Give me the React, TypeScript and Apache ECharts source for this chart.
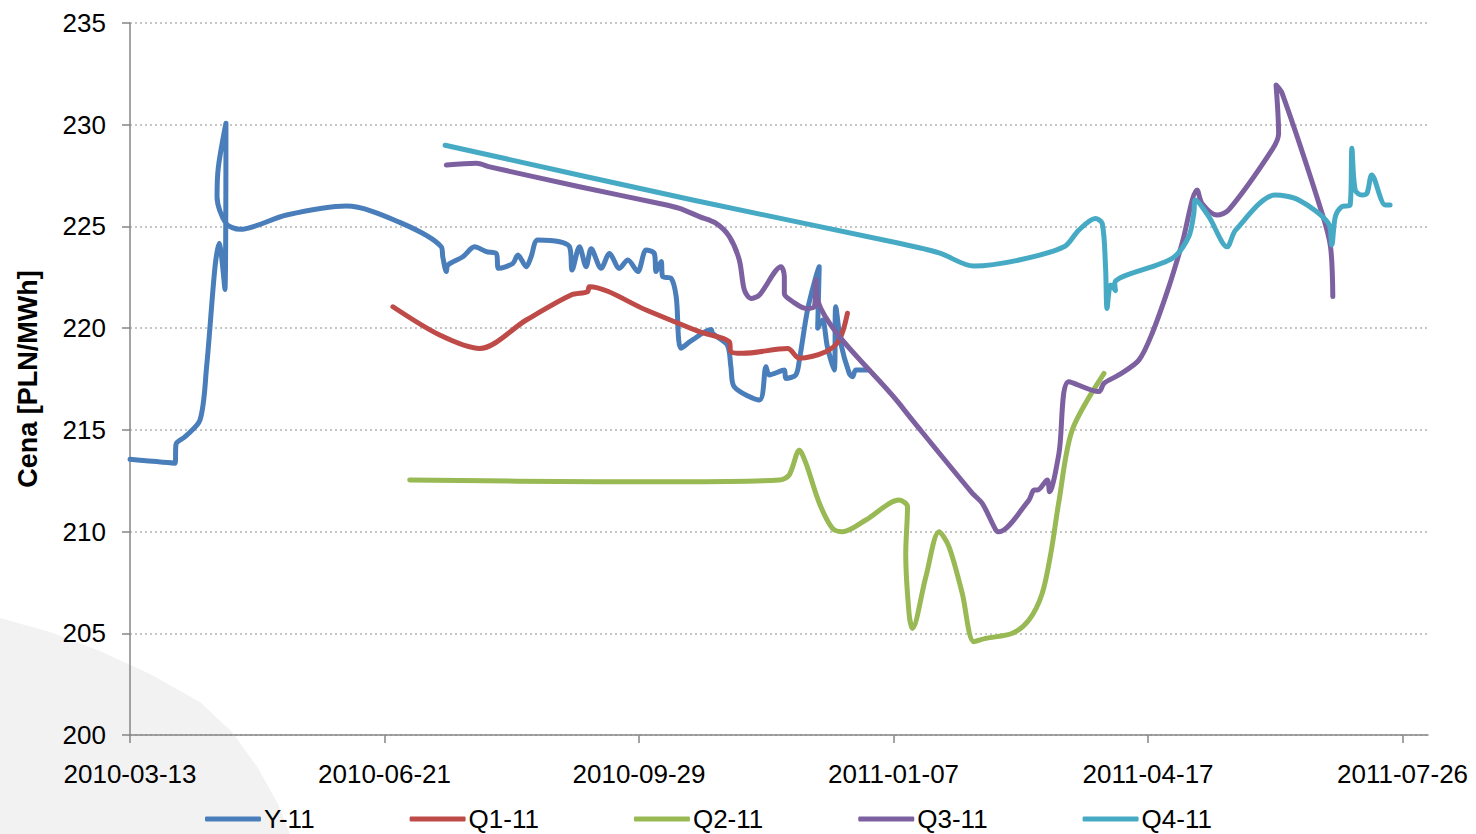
import React, { useEffect, useRef } from "react";
import * as echarts from "echarts";

// x values: days elapsed since START_DATE (2010-03-13)
const START_DATE = "2010-03-13";
const xTickLabels = ["2010-03-13", "2010-06-21", "2010-09-29", "2011-01-07", "2011-04-17", "2011-07-26"];
const yTickValues = [200, 205, 210, 215, 220, 225, 230, 235];
const seriesNames = ["Y-11", "Q1-11", "Q2-11", "Q3-11", "Q4-11"];
const seriesColors = ["#4a7ebb", "#be4b48", "#98b954", "#7d60a0", "#46aac5"];

const y11Days = [0, 17.7, 18.1, 21.6, 27.5, 30.1, 33.4, 35.0, 37.3, 37.7, 34.7, 34.2, 37.7, 43.2, 61.5, 85.0, 106.0, 122.3, 122.9, 124.3, 124.9, 130.8, 135.4, 140.0, 143.9, 144.9, 150.4, 152.4, 155.7, 157.6, 160.2, 168.8, 172.7, 173.7, 176.6, 179.2, 181.2, 185.1, 188.4, 192.3, 195.6, 199.5, 202.8, 206.0, 206.7, 208.7, 209.3, 212.6, 214.6, 216.5, 221.0, 228.3, 228.9, 234.7, 236.1, 237.4, 247.3, 249.9, 251.2, 257.1, 257.7, 261.6, 263.0, 266.2, 269.5, 270.8, 270.2, 272.1, 274.0, 276.7, 277.3, 279.3, 282.6, 283.9, 285.2, 290.4];
const y11Vals = [213.55, 213.36, 214.3, 214.66, 215.48, 218.1, 223.0, 224.17, 221.9, 230.07, 227.9, 226.46, 225.15, 224.86, 225.56, 226.0, 225.2, 224.0, 223.5, 222.78, 223.1, 223.51, 224.0, 223.76, 223.67, 222.94, 223.18, 223.6, 223.02, 223.51, 224.33, 224.25, 224.0, 222.86, 224.0, 223.02, 223.9, 222.94, 223.67, 222.94, 223.35, 222.78, 223.84, 223.67, 222.78, 223.27, 222.53, 222.45, 221.55, 219.01, 219.42, 219.93, 219.74, 219.17, 218.1, 217.12, 216.47, 218.1, 217.7, 217.94, 217.53, 217.7, 218.43, 220.89, 222.53, 223.02, 220.0, 220.4, 219.09, 217.94, 221.05, 219.25, 217.78, 217.61, 217.94, 217.94];

const q111Days = [103.3, 121.7, 137.4, 155.7, 173.3, 179.8, 180.5, 202.8, 223.7, 235.5, 236.1, 240.7, 258.4, 263.0, 273.4, 278.7, 281.9];
const q111Vals = [221.05, 219.66, 219.0, 220.4, 221.63, 221.79, 222.04, 220.89, 219.83, 219.33, 218.84, 218.76, 219.0, 218.52, 218.84, 219.42, 220.73];

const q211Days = [109.9, 184.5, 215.9, 255.1, 259.0, 263.0, 265.6, 270.9, 276.0, 279.9, 289.1, 302.2, 305.5, 304.8, 306.1, 307.4, 312.7, 317.9, 321.8, 327.0, 331.6, 336.2, 346.7, 353.2, 358.4, 361.9, 365.0, 370.2, 382.7];
const q211Vals = [212.54, 212.45, 212.45, 212.53, 212.78, 214.0, 213.35, 211.38, 210.16, 209.99, 210.57, 211.55, 211.22, 208.93, 205.98, 205.24, 207.78, 209.99, 209.25, 206.96, 204.59, 204.75, 205.0, 205.65, 206.96, 209.0, 211.5, 214.99, 217.78];

const q311Days = [124.3, 136.1, 141.3, 176.6, 208.0, 215.9, 223.7, 230.3, 235.5, 239.4, 241.4, 244.0, 247.3, 255.8, 257.1, 257.1, 260.4, 265.6, 268.9, 269.5, 270.1, 302.2, 307.4, 331.0, 334.9, 340.2, 341.4, 353.2, 355.2, 356.5, 360.4, 361.3, 365.0, 368.9, 380.7, 382.7, 388.5, 396.4, 401.6, 408.2, 413.4, 419.3, 421.2, 427.1, 431.7, 448.7, 451.3, 450.3, 452.7, 468.4, 471.7, 472.6];
const q311Vals = [228.02, 228.1, 227.93, 226.95, 226.13, 225.89, 225.48, 225.15, 224.5, 223.35, 221.87, 221.46, 221.63, 223.02, 222.53, 221.7, 221.3, 220.97, 221.05, 222.37, 221.38, 216.3, 215.48, 211.88, 211.38, 210.08, 209.99, 211.55, 212.04, 212.04, 212.53, 211.96, 213.85, 217.37, 216.88, 217.29, 217.7, 218.43, 219.74, 222.04, 224.17, 226.79, 226.13, 225.56, 225.81, 228.76, 229.57, 231.95, 231.54, 225.64, 224.0, 221.55];

const q411Days = [123.8, 221.1, 302.2, 317.9, 331.6, 349.3, 367.0, 372.8, 379.3, 382.0, 383.3, 383.9, 385.3, 387.2, 386.9, 409.5, 416.0, 418.0, 418.6, 423.9, 431.1, 434.4, 450.0, 459.2, 470.9, 472.2, 473.6, 476.1, 479.4, 480.1, 481.4, 484.0, 486.0, 487.9, 493.2, 495.1];
const q411Vals = [228.99, 226.3, 224.17, 223.7, 223.05, 223.35, 224.0, 224.82, 225.39, 225.15, 223.02, 220.97, 222.12, 221.85, 222.2, 223.43, 224.5, 225.64, 226.3, 225.48, 224.0, 224.82, 226.54, 226.3, 225.15, 224.09, 225.48, 225.97, 226.05, 228.84, 226.79, 226.54, 226.62, 227.53, 226.05, 226.05];

const allDays = [y11Days, q111Days, q211Days, q311Days, q411Days];
const allVals = [y11Vals, q111Vals, q211Vals, q311Vals, q411Vals];

const FONT = "'Liberation Sans', Arial, sans-serif";

export default function App() {
  const ref = useRef<HTMLDivElement>(null);
  useEffect(() => {
    if (!ref.current) return;
    const chart = echarts.init(ref.current, null, { renderer: "svg" });
    const tickStep = 100;
    const series = seriesNames.map((name, i) => ({
      name,
      type: "line",
      data: allDays[i].map((d, j) => [d, allVals[i][j]]),
      showSymbol: false,
      symbol: "none",
      smooth: 0.3,
      lineStyle: { color: seriesColors[i], width: 5, cap: "round", join: "round" },
      itemStyle: { color: seriesColors[i] },
      z: 3,
    }));
    chart.setOption({
      animation: false,
      backgroundColor: "#ffffff",
      textStyle: { fontFamily: FONT },
      graphic: [
        {
          type: "polygon",
          z: -10,
          silent: true,
          shape: {
            points: [
              [0, 618], [50, 632], [100, 651], [150, 674], [200, 702], [232, 732],
              [258, 768], [278, 804], [290, 834], [0, 834],
            ],
          },
          style: { fill: "#f2f2f2" },
        },
      ],
      grid: { left: 130, right: 48, top: 23, bottom: 99, containLabel: false },
      legend: {
        data: seriesNames,
        left: 200,
        top: 801,
        itemGap: 95,
        itemWidth: 56,
        itemHeight: 5,
        icon: "roundRect",
        textStyle: { fontSize: 26, color: "#000", fontFamily: FONT, padding: [0, 0, 0, -2] },
      },
      xAxis: {
        type: "value",
        min: 0,
        max: 510,
        interval: tickStep,
        axisLine: { show: true, lineStyle: { color: "#868686", width: 1.5 } },
        axisTick: { show: true, length: 8, lineStyle: { color: "#868686", width: 1.5 } },
        splitLine: { show: false },
        axisLabel: {
          margin: 26,
          fontSize: 26,
          color: "#000",
          fontFamily: FONT,
          showMaxLabel: false,
          formatter: (v: number) => {
            const idx = Math.round(v / tickStep);
            return Math.abs(v - idx * tickStep) < 1e-6 && xTickLabels[idx] ? xTickLabels[idx] : "";
          },
        },
      },
      yAxis: {
        type: "value",
        min: yTickValues[0],
        max: yTickValues[yTickValues.length - 1],
        interval: 5,
        name: "Cena [PLN/MWh]",
        nameLocation: "middle",
        nameGap: 89,
        nameTextStyle: { fontSize: 27, fontWeight: "bold", color: "#000", fontFamily: FONT },
        axisLine: { show: true, lineStyle: { color: "#868686", width: 1.5 } },
        axisTick: { show: true, length: 8, lineStyle: { color: "#868686", width: 1.5 } },
        splitLine: { show: true, lineStyle: { color: "#b4b4b4", width: 1.5, type: [2, 3] } },
        axisLabel: { margin: 24, fontSize: 26, color: "#000", fontFamily: FONT },
      },
      series,
    });
    return () => chart.dispose();
  }, []);
  return (
    <div
      ref={ref}
      style={{ position: "fixed", left: 0, top: 0, width: 1476, height: 834, background: "#fff" }}
    />
  );
}
